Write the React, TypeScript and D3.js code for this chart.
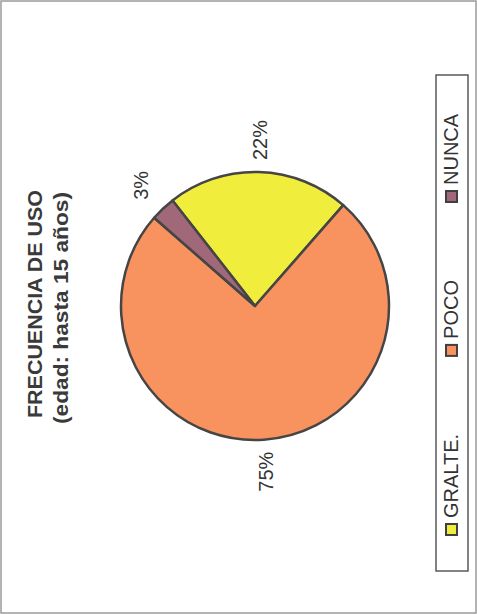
import React, { useEffect, useRef } from 'react';
import * as d3 from 'd3';

// data
const categories = ['GRALTE.', 'POCO', 'NUNCA'];
const values = [22, 75, 3];
const colors = ['#f1ed3c', '#f8925e', '#a1687a'];
const title = 'FRECUENCIA DE USO';
const subtitle = '(edad: hasta 15 años)';

const W = 477;
const H = 614;
const FONT = '"Liberation Sans", Arial, sans-serif';

export default function App() {
  const svgRef = useRef<SVGSVGElement>(null);

  useEffect(() => {
    if (!svgRef.current) return;
    const svg = d3.select(svgRef.current);
    svg.selectAll('*').remove();

    // page background + scan frame
    svg.append('rect')
      .attr('x', 1).attr('y', 1)
      .attr('width', W - 2).attr('height', H - 2)
      .attr('fill', '#fff')
      .attr('stroke', '#9a9a9a')
      .attr('stroke-width', 1.5);

    // the chart is drawn upright (614 wide, 477 tall) and turned a quarter left
    const g = svg.append('g').attr('transform', `translate(0,${H}) rotate(-90)`);

    // Title
    g.append('text')
      .attr('x', 310).attr('y', 42)
      .attr('text-anchor', 'middle')
      .attr('font-family', FONT)
      .attr('font-weight', 'bold')
      .attr('font-size', 20)
      .attr('fill', '#3a3a3a')
      .attr('textLength', 228)
      .attr('lengthAdjust', 'spacingAndGlyphs')
      .text(title);

    g.append('text')
      .attr('x', 306).attr('y', 68)
      .attr('text-anchor', 'middle')
      .attr('font-family', FONT)
      .attr('font-weight', 'bold')
      .attr('font-size', 20)
      .attr('fill', '#3a3a3a')
      .attr('textLength', 232)
      .attr('lengthAdjust', 'spacingAndGlyphs')
      .text(subtitle);

    // Pie
    const cx = 308;
    const cy = 255;
    const radius = 134;
    const start = (52 * Math.PI) / 180;

    const pie = d3.pie<number>()
      .sort(null)
      .value(d => d)
      .startAngle(start)
      .endAngle(start + 2 * Math.PI);
    const arcs = pie(values);

    const arc = d3.arc<d3.PieArcDatum<number>>().innerRadius(0).outerRadius(radius);
    const labelArc = d3.arc<d3.PieArcDatum<number>>().innerRadius(166).outerRadius(166);

    const pg = g.append('g').attr('transform', `translate(${cx},${cy})`);
    pg.selectAll('path')
      .data(arcs)
      .enter()
      .append('path')
      .attr('d', d => arc(d) as string)
      .attr('fill', (_, i) => colors[i])
      .attr('stroke', '#454545')
      .attr('stroke-width', 2.5)
      .attr('stroke-linejoin', 'round');

    const total = d3.sum(values);
    pg.selectAll('text')
      .data(arcs)
      .enter()
      .append('text')
      .attr('transform', d => `translate(${labelArc.centroid(d)})`)
      .attr('text-anchor', 'middle')
      .attr('dominant-baseline', 'central')
      .attr('font-family', FONT)
      .attr('font-size', 20)
      .attr('fill', '#333')
      .text(d => `${Math.round((d.value / total) * 100)}%`);

    // Legend
    const lx = 43;
    const ly = 436;
    const lg = g.append('g');
    lg.append('rect')
      .attr('x', lx).attr('y', ly)
      .attr('width', 496).attr('height', 32)
      .attr('fill', '#fff')
      .attr('stroke', '#5a5a5a')
      .attr('stroke-width', 1.5);

    let pos = 79;
    categories.forEach((c, i) => {
      lg.append('rect')
        .attr('x', pos).attr('y', ly + 10)
        .attr('width', 11).attr('height', 11)
        .attr('fill', colors[i])
        .attr('stroke', '#404040')
        .attr('stroke-width', 2);
      const t = lg.append('text')
        .attr('x', pos + 17).attr('y', ly + 22)
        .attr('font-family', FONT)
        .attr('font-size', 20)
        .attr('fill', '#333')
        .text(c);
      const len = (t.node() as SVGTextElement).getComputedTextLength();
      pos += 17 + len + 78;
    });
  }, []);

  return (
    <svg
      ref={svgRef}
      width={W}
      height={H}
      viewBox={`0 0 ${W} ${H}`}
      style={{ position: 'absolute', left: 0, top: 0, background: '#fff' }}
    />
  );
}
